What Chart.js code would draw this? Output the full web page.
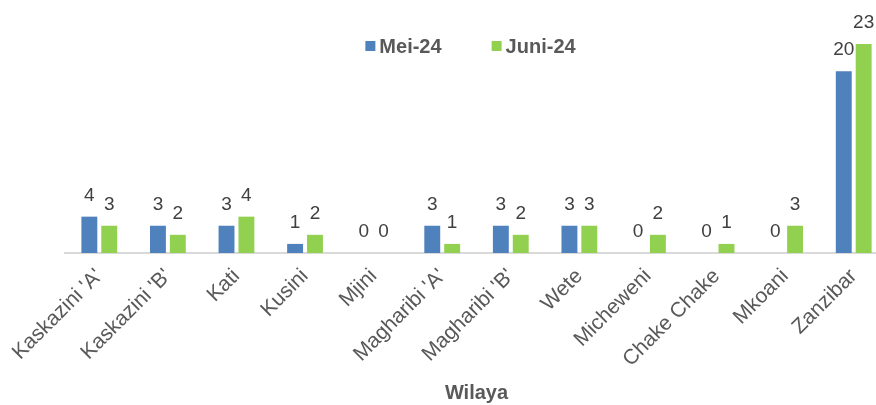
<!DOCTYPE html>
<html>
<head>
<meta charset="utf-8">
<script src="https://cdn.jsdelivr.net/npm/chart.js@4/dist/chart.umd.min.js"></script>
<style>
  html, body { margin: 0; padding: 0; background: #fff; overflow: hidden; }
  .chart-wrapper { position: relative; width: 890px; height: 405px; }
</style>
</head>
<body>
<div class="chart-wrapper"><canvas id="wilayaChart"></canvas></div>
<script>
// --- data ---
const wilaya = ["Kaskazini 'A'", "Kaskazini 'B'", "Kati", "Kusini", "Mjini", "Magharibi 'A'",
    "Magharibi 'B'", "Wete", "Micheweni", "Chake Chake", "Mkoani", "Zanzibar"];
const mei24 = [4, 3, 3, 1, 0, 3, 3, 3, 0, 0, 0, 20];
const juni24 = [3, 2, 4, 2, 0, 1, 2, 3, 2, 1, 3, 23];
const seriesNames = ["Mei-24", "Juni-24"];
const seriesColors = ["#4f81bd", "#92d050"];

const FONT = "'Liberation Sans', Arial, sans-serif";

// values above the bars
const valueLabels = {
    id: 'valueLabels',
    afterDatasetsDraw(chart) {
        const ctx = chart.ctx;
        ctx.save();
        ctx.font = "19px " + FONT;
        ctx.fillStyle = "#404040";
        ctx.textAlign = "center";
        ctx.textBaseline = "alphabetic";
        chart.data.datasets.forEach((ds, i) => {
            chart.getDatasetMeta(i).data.forEach((bar, j) => {
                ctx.fillText(ds.data[j], bar.x, bar.y - 16);
            });
        });
        ctx.restore();
    }
};

// legend drawn inside the plot (like excel)
const innerLegend = {
    id: 'innerLegend',
    afterDraw(chart) {
        const ctx = chart.ctx;
        const area = chart.chartArea;
        ctx.save();
        ctx.font = "bold 20px " + FONT;
        ctx.textBaseline = "middle";
        const box = 10, gapBox = 4, gapItem = 50;
        const widths = seriesNames.map(n => ctx.measureText(n).width);
        let total = 0;
        widths.forEach((w, i) => { total += box + gapBox + w + (i < widths.length - 1 ? gapItem : 0); });
        let x = (area.left + area.right) / 2 - total / 2 - 6;
        const y = area.top + 2;
        seriesNames.forEach((n, i) => {
            ctx.fillStyle = seriesColors[i];
            ctx.fillRect(x, y - box / 2, box, box);
            x += box + gapBox;
            ctx.fillStyle = "#595959";
            ctx.fillText(n, x, y + 1);
            x += widths[i] + gapItem;
        });
        ctx.restore();
    }
};

const chart = new Chart(document.getElementById('wilayaChart'), {
    type: 'bar',
    data: {
        labels: wilaya,
        datasets: [
            { label: seriesNames[0], data: mei24, backgroundColor: seriesColors[0] },
            { label: seriesNames[1], data: juni24, backgroundColor: seriesColors[1] }
        ]
    },
    options: {
        responsive: true,
        maintainAspectRatio: false,
        animation: false,
        categoryPercentage: 0.58,
        barPercentage: 0.8,
        layout: { padding: { top: 44, left: 65, right: 2, bottom: 0 } },
        plugins: {
            legend: { display: false },
            tooltip: { enabled: false }
        },
        scales: {
            x: {
                grid: { display: false },
                border: { color: '#d9d9d9', width: 2 },
                ticks: {
                    color: '#595959',
                    font: { family: FONT, size: 21 },
                    minRotation: 45,
                    maxRotation: 45,
                    autoSkip: false
                },
                title: {
                    display: true,
                    text: 'Wilaya',
                    color: '#595959',
                    padding: { top: 0, bottom: 0 },
                    font: { family: FONT, size: 20, weight: 'bold' }
                },
                afterFit(scale) {
                    scale.height = 152;
                }
            },
            y: {
                display: false,
                min: 0,
                max: 23
            }
        }
    },
    plugins: [valueLabels, innerLegend]
});
</script>
</body>
</html>
